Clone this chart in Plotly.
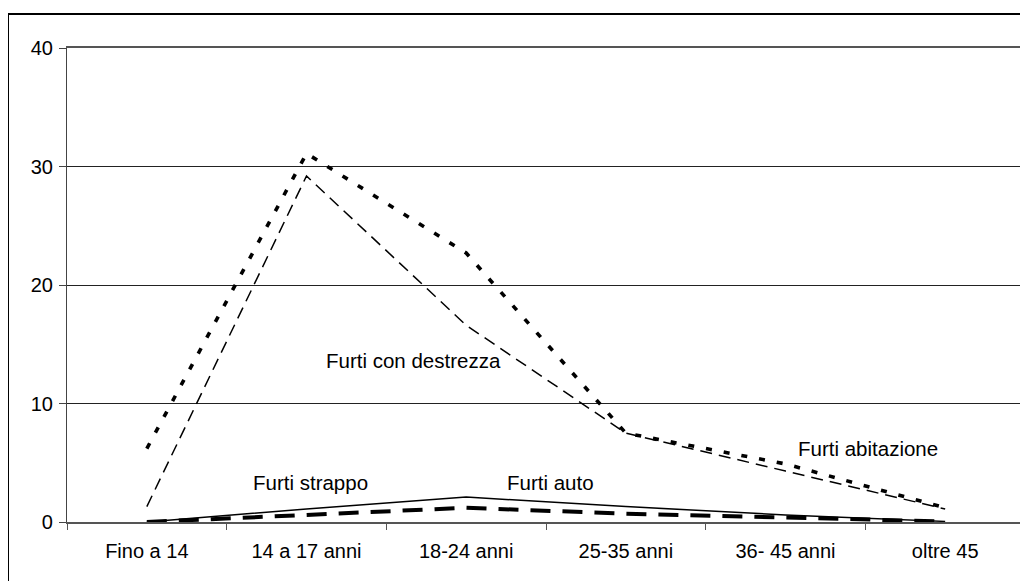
import plotly.graph_objects as go

categories = ["Fino a 14", "14 a 17 anni", "18-24 anni", "25-35 anni", "36- 45 anni", "oltre 45"]
furti_abitazione = [6.2, 31.1, 22.7, 7.5, 4.9, 1.2]
furti_destrezza = [1.3, 29.2, 16.6, 7.5, 4.3, 1.1]
furti_strappo = [0.0, 1.1, 2.1, 1.3, 0.6, 0.05]
furti_auto = [0.0, 0.6, 1.2, 0.7, 0.35, 0.05]

FONT = "Liberation Sans, Arial, sans-serif"
FS = 20
FS_ANN = 20.5

fig = go.Figure()
fig.add_trace(go.Scatter(x=categories, y=furti_strappo, mode="lines",
                         line=dict(color="black", width=1.5), name="Furti strappo"))
fig.add_trace(go.Scatter(x=categories, y=furti_auto, mode="lines",
                         line=dict(color="black", width=4, dash="20px,12px"), name="Furti auto"))
fig.add_trace(go.Scatter(x=categories, y=furti_destrezza, mode="lines",
                         line=dict(color="black", width=1.5, dash="12px,7px"), name="Furti con destrezza"))
fig.add_trace(go.Scatter(x=categories, y=furti_abitazione, mode="lines",
                         line=dict(color="black", width=3.6, dash="6px,12px"), name="Furti abitazione"))

# page-pixel geometry of the plot area (page has 8px body margin)
OFF = 8
L, R, T, B = 67, 1025, 48, 522
W, H = 1028, 581

labels = [
    ("Furti strappo", 310, 482),
    ("Furti auto", 550, 482),
    ("Furti con destrezza", 413, 360),
    ("Furti abitazione", 868, 448),
]
for text, px, py in labels:
    fig.add_annotation(text=text, xref="paper", yref="paper",
                       x=(px - L) / (R - L), y=(B - py) / (B - T),
                       showarrow=False, font=dict(size=FS_ANN, color="black", family=FONT),
                       xanchor="center", yanchor="middle")

# outer chart frame (left and top edges visible)
fx = (8 - L) / (R - L)
fy = (B - 14) / (B - T)
fig.add_shape(type="line", xref="paper", yref="paper", x0=fx, x1=fx, y0=-0.3, y1=fy,
              line=dict(color="black", width=2))
fig.add_shape(type="line", xref="paper", yref="paper", x0=fx, x1=1.2, y0=fy, y1=fy,
              line=dict(color="black", width=2))

fig.update_layout(
    width=W, height=H,
    margin=dict(l=L - OFF, r=W - (R - OFF), t=T - OFF, b=H - (B - OFF)),
    paper_bgcolor="white", plot_bgcolor="white",
    showlegend=False,
    font=dict(family=FONT, size=FS, color="black"),
    xaxis=dict(type="category", range=[-0.5, 5.5], showgrid=False,
               showline=True, linecolor="#555", linewidth=1.5, mirror=True,
               ticks="outside", tickson="boundaries", ticklen=6, tickcolor="#555",
               ticklabelstandoff=10,
               tickfont=dict(size=FS, family=FONT, color="black")),
    yaxis=dict(range=[0, 40], dtick=10, showgrid=True, gridcolor="#222", gridwidth=1,
               showline=True, linecolor="#444", linewidth=1.2, mirror=True,
               ticks="outside", ticklen=7, tickcolor="#444", zeroline=False,
               ticklabelstandoff=2,
               tickfont=dict(size=FS, family=FONT, color="black")),
)

fig.write_html("out.html")
